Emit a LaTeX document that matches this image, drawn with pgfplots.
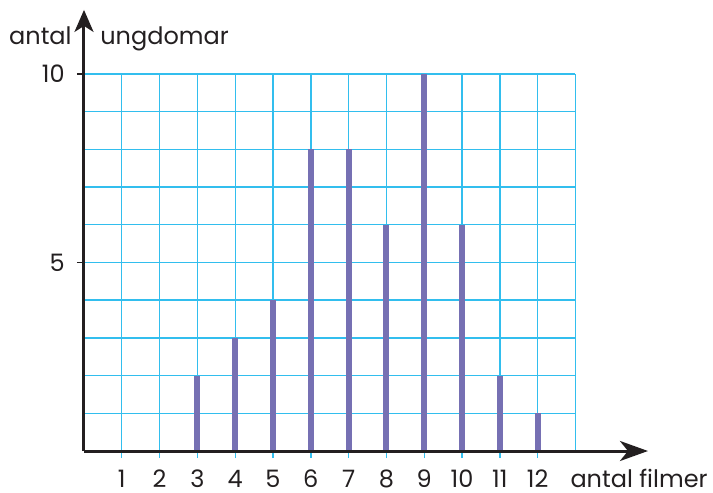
\documentclass[border=0pt]{standalone}
\usepackage{fontspec}
\setmainfont{Poppins}
\usepackage{pgfplots}
\pgfplotsset{compat=1.18}
\usetikzlibrary{arrows.meta}
\definecolor{gridc}{RGB}{50,190,238}
\definecolor{barc}{RGB}{118,112,179}
\definecolor{axisc}{RGB}{35,31,32}
\begin{document}
\begin{tikzpicture}[font=\fontsize{12}{14}\selectfont]
\useasboundingbox (-42pt,-21pt) rectangle (314.5pt,225.5pt);
\begin{axis}[
  anchor=origin, at={(0pt,0pt)},
  x=18.9pt, y=18.85pt,
  xmin=0, xmax=14.92, ymin=0, ymax=11.7,
  enlargelimits=false,
  axis lines=left,
  xtick=\empty, ytick=\empty,
  clip=false,
  axis on top,
  x axis line style={line width=1.5pt, color=axisc, -{Stealth[length=14pt,width=10pt,inset=4pt]}},
  y axis line style={line width=1.5pt, color=axisc, -{Stealth[length=11pt,width=9.5pt,inset=3pt]}},
]
\pgfplotsinvokeforeach{1,...,12}{
  \draw[gridc, line width=0.7pt] ([yshift=-3.5pt]axis cs:#1,0) -- (axis cs:#1,10);
  \node[anchor=base, inner sep=0pt, text=axisc] at ([yshift=-18pt]axis cs:#1,0) {#1};
}
\draw[gridc, line width=0.7pt] (axis cs:13,0) -- (axis cs:13,10);
\pgfplotsinvokeforeach{1,...,10}{
  \draw[gridc, line width=0.7pt] (axis cs:0,#1) -- (axis cs:13,#1);
}
\draw[axisc, line width=0.8pt] ([xshift=-3.5pt]axis cs:0,5) -- (axis cs:0,5);
\draw[axisc, line width=0.8pt] ([xshift=-3.5pt]axis cs:0,10) -- (axis cs:0,10);
\node[anchor=east, inner sep=0pt, text=axisc] at ([xshift=-9.5pt]axis cs:0,10) {10};
\node[anchor=east, inner sep=0pt, text=axisc] at ([xshift=-9.5pt]axis cs:0,5) {5};
\addplot[ycomb, barc, line width=3pt, mark=none] coordinates {
  (3,2) (4,3) (5,4) (6,8) (7,8) (8,6) (9,10) (10,6) (11,2) (12,1)
};
\node[anchor=base west, inner sep=0pt, text=axisc] at ([yshift=-18pt]axis cs:12.86,0) {antal filmer};
\node[anchor=base east, inner sep=0pt, text=axisc] at (axis cs:-0.317,10.77) {antal};
\node[anchor=base west, inner sep=0pt, text=axisc] at (axis cs:0.423,10.77) {ungdomar};
\end{axis}
\end{tikzpicture}
\end{document}
